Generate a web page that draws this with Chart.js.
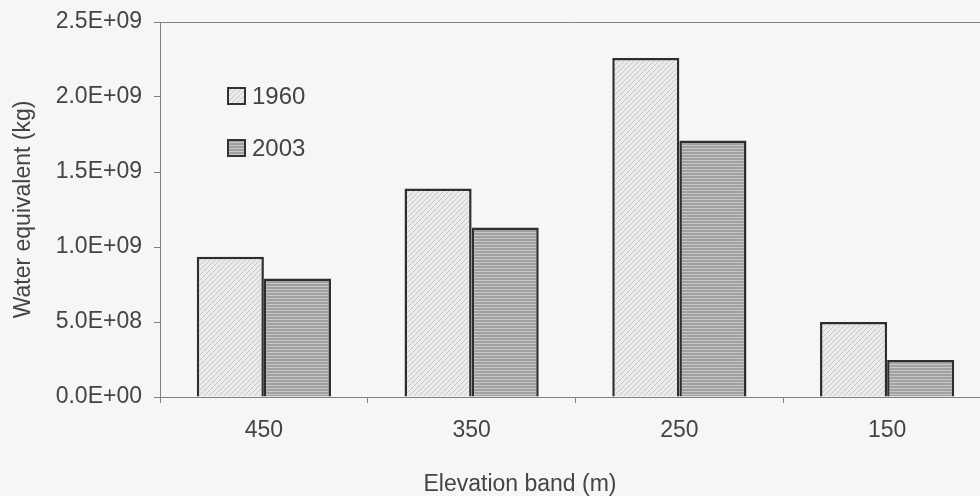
<!DOCTYPE html>
<html lang="en">
<head>
  <meta charset="UTF-8" />
  <title>Water equivalent by elevation band</title>
  <script src="https://cdn.jsdelivr.net/npm/chart.js"></script>
  <style>
    html, body { margin: 0; padding: 0; background: #f6f6f4; overflow: hidden; }
    #wrap { width: 1000px; height: 496px; }
  </style>
</head>
<body>
<div id="wrap"><canvas id="grafico" width="1000" height="496"></canvas></div>

<script>
  // dados
  const bandas = ['450', '350', '250', '150'];
  const anos = ['1960', '2003'];
  const valores1960 = [9.35e8, 1.39e9, 2.26e9, 5.0e8];
  const valores2003 = [7.9e8, 1.13e9, 1.71e9, 2.47e8];
  const ticksY = [0, 5e8, 1e9, 1.5e9, 2e9, 2.5e9];
  const tituloX = 'Elevation band (m)';
  const tituloY = 'Water equivalent (kg)';

  const fonte = 'Liberation Sans, Arial, sans-serif';

  function padraoDiagonal() {
    const c = document.createElement('canvas');
    c.width = 5; c.height = 5;
    const g = c.getContext('2d');
    g.fillStyle = '#ebebe9';
    g.fillRect(0, 0, 5, 5);
    g.strokeStyle = '#c6c6c4';
    g.lineWidth = 1;
    g.beginPath();
    g.moveTo(0, 5); g.lineTo(5, 0);
    g.moveTo(-1, 1); g.lineTo(1, -1);
    g.moveTo(4, 6); g.lineTo(6, 4);
    g.stroke();
    return g.createPattern(c, 'repeat');
  }

  function padraoHorizontal() {
    const c = document.createElement('canvas');
    c.width = 4; c.height = 3;
    const g = c.getContext('2d');
    g.fillStyle = '#a0a0a0';
    g.fillRect(0, 0, 4, 3);
    g.fillStyle = '#c8c8c8';
    g.fillRect(0, 1, 4, 1);
    return g.createPattern(c, 'repeat');
  }

  function notacaoExp(v) {
    if (v === 0) return '0.0E+00';
    const e = Math.floor(Math.log10(v) + 1e-9);
    const m = (v / Math.pow(10, e)).toFixed(1);
    return m + 'E+' + String(e).padStart(2, '0');
  }

  const p1960 = padraoDiagonal();
  const p2003 = padraoHorizontal();

  // legenda dentro da área do gráfico, borda superior e título do eixo x
  const extras = {
    id: 'extras',
    afterDatasetsDraw(chart) {
      const ctx = chart.ctx;
      const area = chart.chartArea;
      ctx.save();
      ctx.strokeStyle = '#808080';
      ctx.lineWidth = 1;
      ctx.beginPath();
      ctx.moveTo(area.left, area.top + 0.5);
      ctx.lineTo(area.right, area.top + 0.5);
      ctx.stroke();

      ctx.font = '24px ' + fonte;
      ctx.textBaseline = 'middle';
      chart.data.datasets.forEach((ds, i) => {
        const x = area.left + 68;
        const y = area.top + 66 + i * 52;
        ctx.fillStyle = ds.backgroundColor;
        ctx.fillRect(x, y, 17, 16);
        ctx.strokeStyle = '#333';
        ctx.lineWidth = 2;
        ctx.strokeRect(x, y, 17, 16);
        ctx.fillStyle = '#444';
        ctx.fillText(ds.label, x + 24, y + 9);
      });

      ctx.font = '23px ' + fonte;
      ctx.textAlign = 'center';
      ctx.fillStyle = '#444';
      ctx.fillText(tituloX, 520, 485);
      ctx.restore();
    }
  };

  new Chart(document.getElementById('grafico').getContext('2d'), {
    type: 'bar',
    data: {
      labels: bandas,
      datasets: [
        { label: anos[0], data: valores1960, backgroundColor: p1960, borderColor: '#2e2e2e', borderWidth: 2.5 },
        { label: anos[1], data: valores2003, backgroundColor: p2003, borderColor: '#2e2e2e', borderWidth: 2.5 }
      ]
    },
    options: {
      responsive: false,
      animation: false,
      layout: { padding: { top: 22, right: 9, left: 0, bottom: 0 } },
      plugins: { legend: { display: false }, tooltip: { enabled: false } },
      datasets: { bar: { barPercentage: 1, categoryPercentage: 0.646 } },
      scales: {
        x: {
          afterFit: s => { s.height = 99; },
          grid: { offset: true, drawOnChartArea: false, tickLength: 6, color: '#808080' },
          border: { color: '#808080' },
          ticks: { color: '#444', padding: 14, font: { family: fonte, size: 23 } },
          title: { display: false, text: tituloX }
        },
        y: {
          min: 0,
          max: 2.5e9,
          afterFit: s => { s.width = 160; },
          afterBuildTicks: s => { s.ticks = ticksY.map(v => ({ value: v })); },
          grid: { drawOnChartArea: false, tickLength: 6, color: '#808080' },
          border: { color: '#808080' },
          ticks: { color: '#444', padding: 12, font: { family: fonte, size: 23, lineHeight: 0.8 },
                   callback: v => notacaoExp(v) },
          title: { display: true, text: tituloY, color: '#444', padding: { top: 10, bottom: 0 },
                   font: { family: fonte, size: 23, lineHeight: 1.2 } }
        }
      }
    },
    plugins: [extras]
  });
</script>
</body>
</html>
